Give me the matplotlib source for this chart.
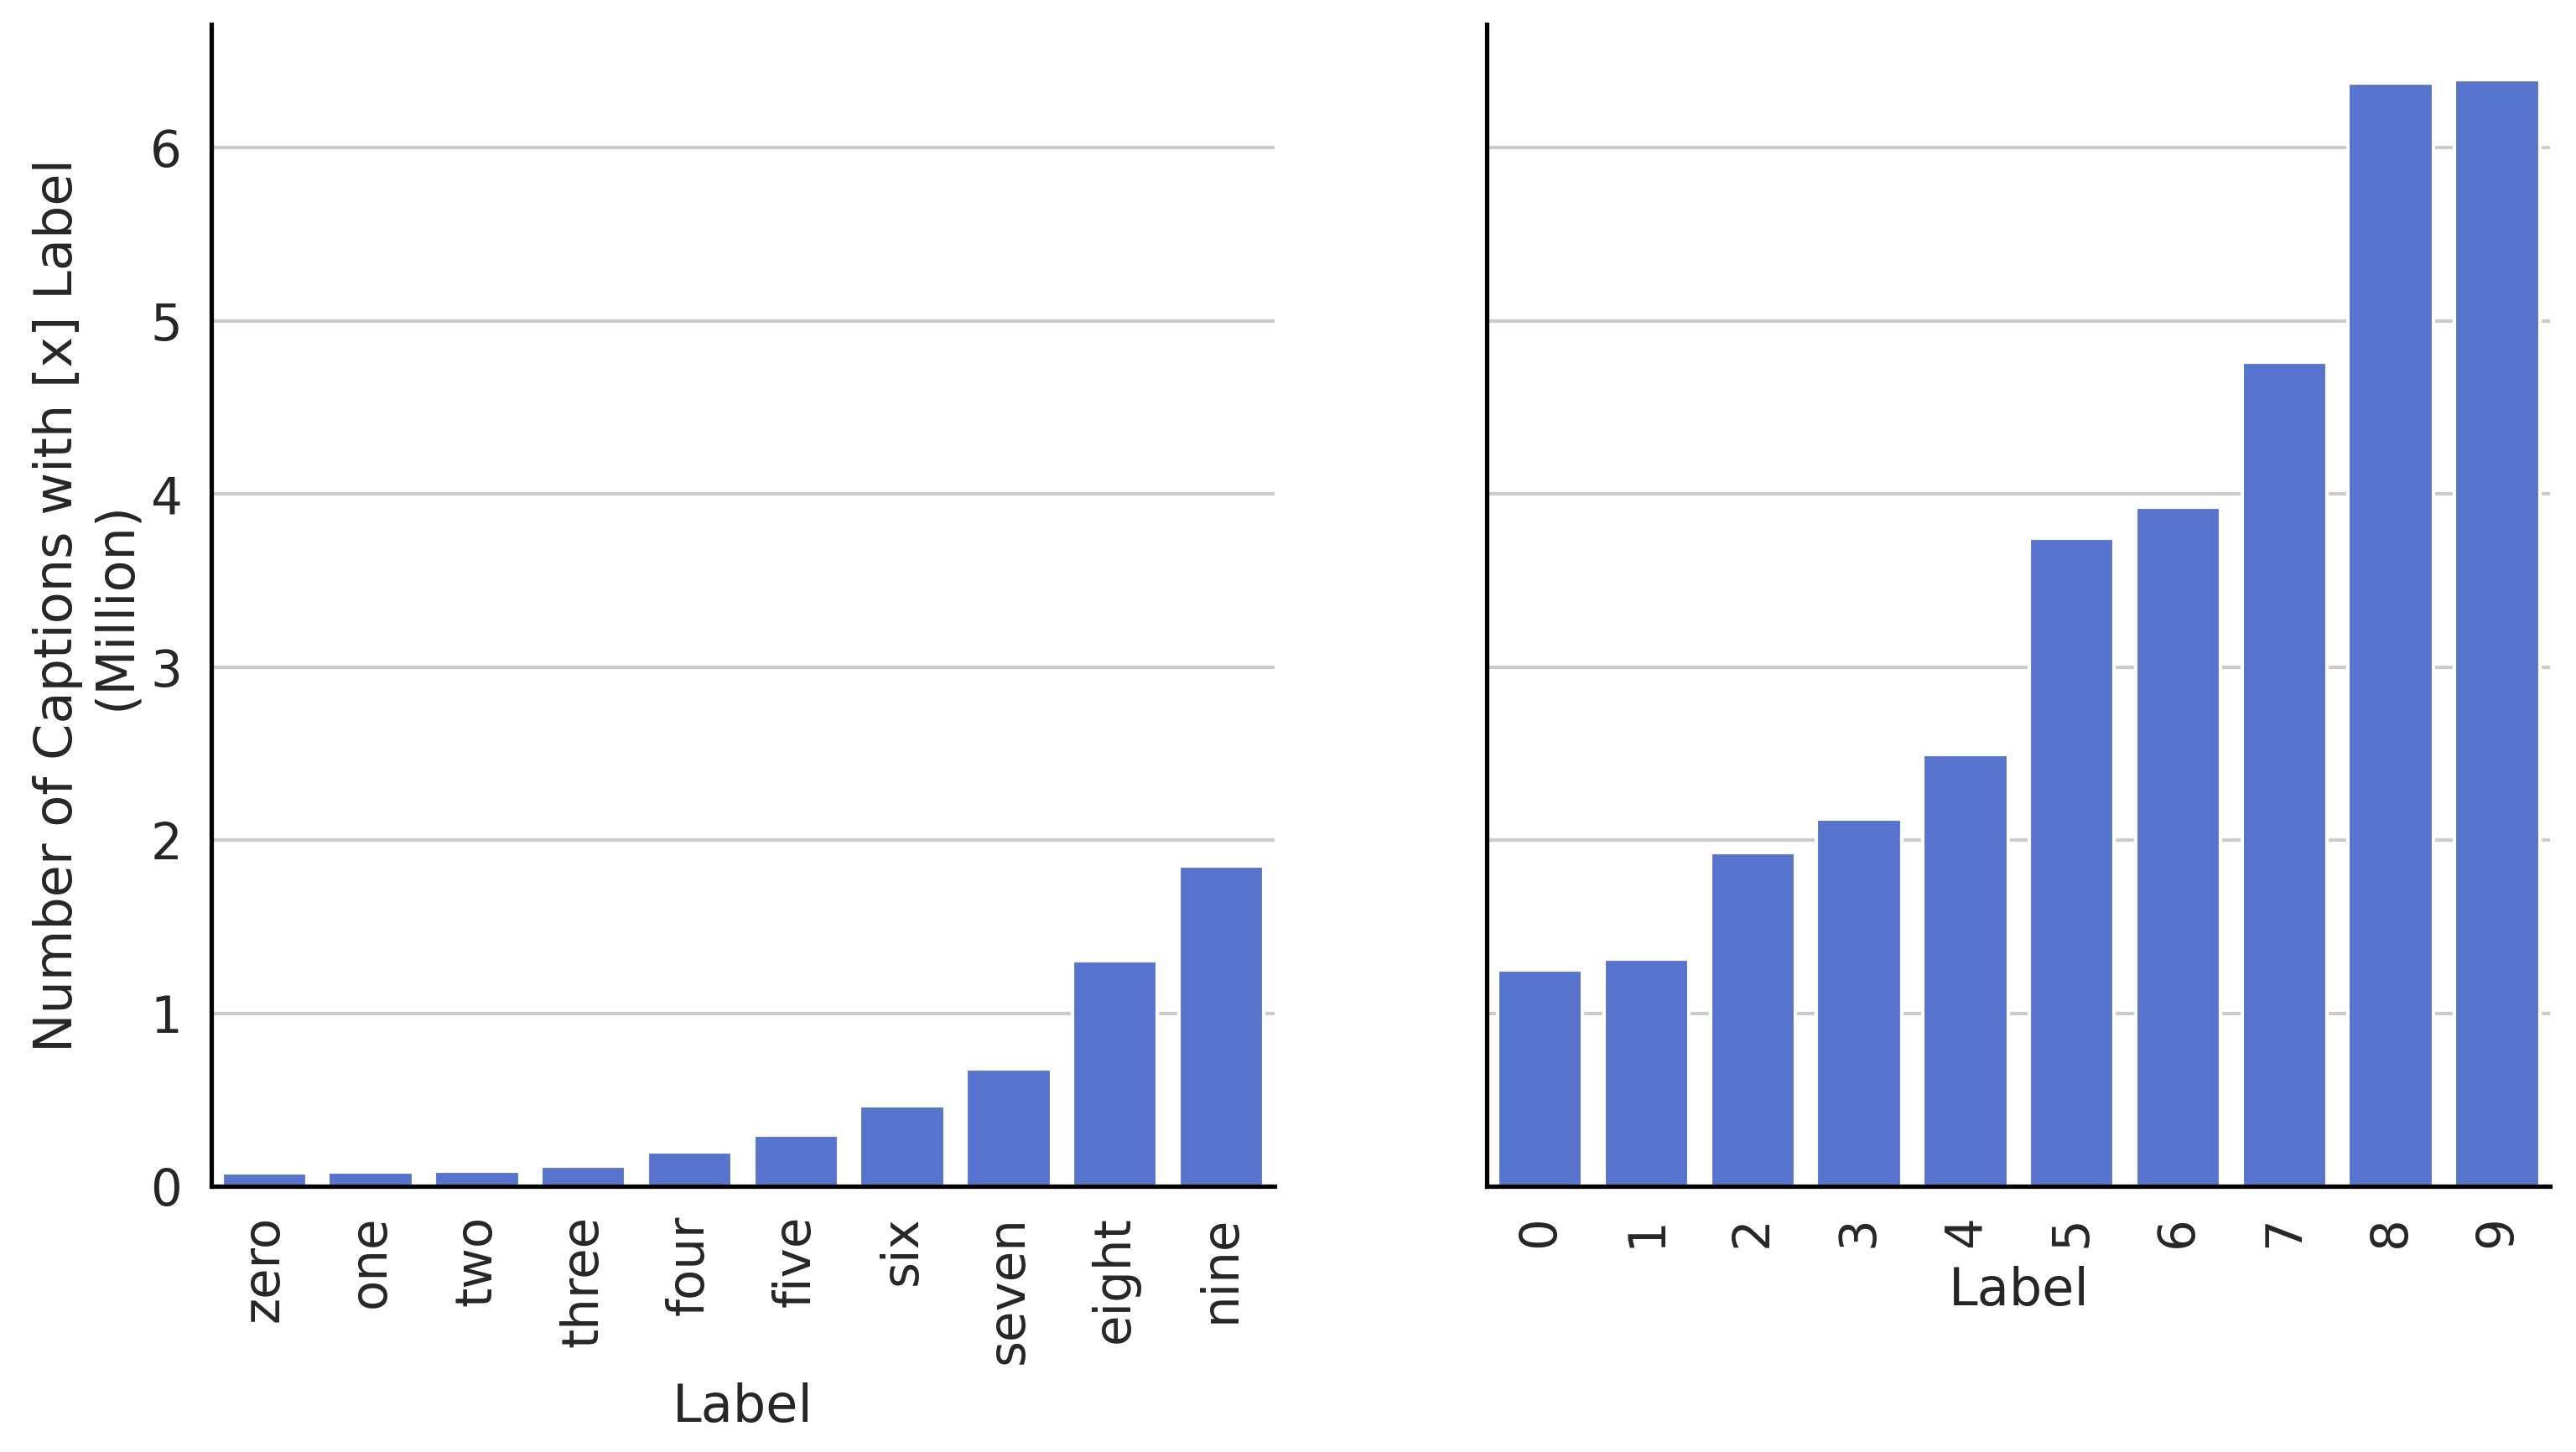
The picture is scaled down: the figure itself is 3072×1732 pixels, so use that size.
import matplotlib
matplotlib.use('Agg')
import matplotlib.pyplot as plt
import seaborn as sns

# Стиль як у seaborn talk, трохи більший шрифт
sns.set_theme(style='whitegrid', context='talk', font_scale=1.3)
plt.rcParams['font.family'] = ['DejaVu Sans']
plt.rcParams['axes.labelsize'] = 22.4

# Дані (мільйони підписів)
word_labels = ['zero', 'one', 'two', 'three', 'four', 'five', 'six', 'seven', 'eight', 'nine']
word_counts = [0.078, 0.083, 0.088, 0.117, 0.2, 0.297, 0.467, 0.68, 1.302, 1.851]

digit_labels = ['0', '1', '2', '3', '4', '5', '6', '7', '8', '9']
digit_counts = [1.25, 1.315, 1.928, 2.12, 2.493, 3.746, 3.925, 4.762, 6.373, 6.392]

bar_color = '#5674cd'

fig, (ax1, ax2) = plt.subplots(1, 2, sharey=True, figsize=(15.36, 8.66), dpi=200)
fig.subplots_adjust(left=0.082, right=0.99, top=0.983, bottom=0.183, wspace=0.2)

for ax, labels, counts in [(ax1, word_labels, word_counts), (ax2, digit_labels, digit_counts)]:
    ax.bar(range(len(labels)), counts, width=0.8, color=bar_color)
    ax.set_xticks(range(len(labels)))
    ax.set_xticklabels(labels, rotation=90)
    ax.set_xlim(-0.5, len(labels) - 0.5)
    ax.set_xlabel('Label', labelpad=8)
    ax.grid(axis='x', visible=False)
    ax.grid(axis='y', color='#cccccc')
    for side in ['top', 'right']:
        ax.spines[side].set_visible(False)
    for side in ['left', 'bottom']:
        ax.spines[side].set_color('black')

ax1.set_ylabel('Number of Captions with [x] Label\n(Million)')
ax1.set_yticks([0, 1, 2, 3, 4, 5, 6])

fig.savefig('out.png', dpi=200)
